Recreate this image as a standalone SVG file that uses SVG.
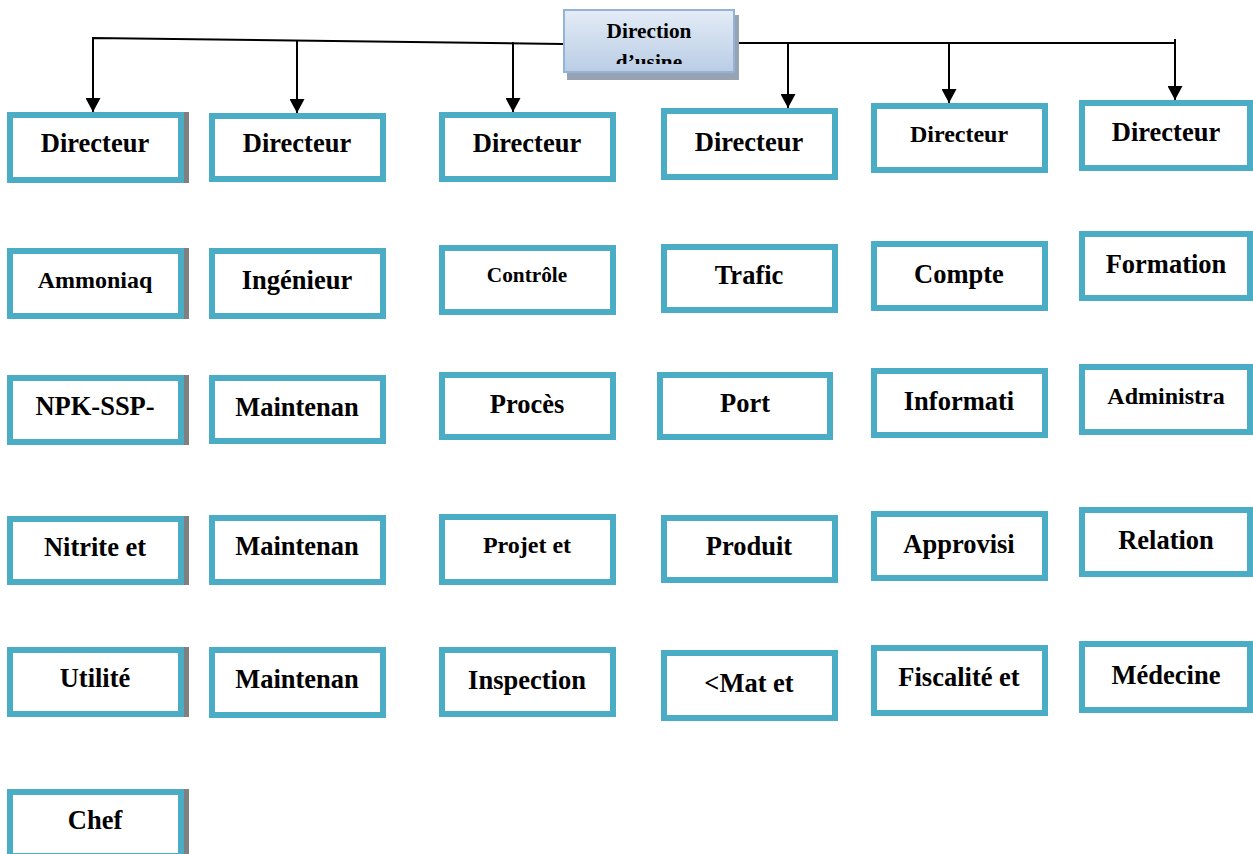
<svg xmlns="http://www.w3.org/2000/svg" width="1253" height="854" viewBox="0 0 1253 854">
<defs>
<linearGradient id="hdr" x1="0" y1="0" x2="0" y2="1">
<stop offset="0" stop-color="#e4ecf6"/>
<stop offset="1" stop-color="#b9cde5"/>
</linearGradient>
<clipPath id="hclip"><rect x="563" y="9" width="172" height="55"/></clipPath>
<marker id="arr" viewBox="0 0 14 15" refX="14" refY="7.5" markerWidth="14" markerHeight="15" markerUnits="userSpaceOnUse" orient="auto">
<path d="M0,0 L14,7.5 L0,15 z" fill="#000"/>
</marker>
<style>
.box{fill:#fff;stroke:#4BACC6;stroke-width:6}
.sh{fill:#808080}
.t{font-family:"Liberation Serif","Times New Roman",serif;font-weight:bold;font-size:26.5px;fill:#000;text-anchor:middle}
.s24{font-size:24px}
.s21{font-size:21.3px}
.c{fill:none;stroke:#000;stroke-width:2}
</style>
</defs>
<rect width="1253" height="854" fill="#fff"/>

<g id="connectors">
<path class="c" d="M563,44 L93,38 L93,112" marker-end="url(#arr)"/>
<path class="c" d="M297,41 L297,113" marker-end="url(#arr)"/>
<path class="c" d="M513,42 L513,112" marker-end="url(#arr)"/>
<path class="c" d="M735,43 L1176,43"/>
<path class="c" d="M788,43 L788,108" marker-end="url(#arr)"/>
<path class="c" d="M949,43 L949,103" marker-end="url(#arr)"/>
<path class="c" d="M1175,39 L1175,100" marker-end="url(#arr)"/>
</g>

<g id="n-direction-usine">
<rect x="567" y="15" width="172" height="65" fill="#97a3b3"/>
<rect x="564" y="10" width="170" height="62" fill="url(#hdr)" stroke="#95B3D7" stroke-width="2"/>
<text class="t s21" x="649" y="38">Direction</text>
<text class="t s21" x="649" y="69" clip-path="url(#hclip)">d’usine</text>
</g>

<!-- Column 1 -->
<g id="n-c1-directeur"><rect class="sh" x="183" y="112" width="6" height="71"/><rect class="box" x="10" y="115" width="171" height="65"/><text class="t" x="95" y="152">Directeur</text></g>
<g id="n-c1-ammoniaq"><rect class="sh" x="183" y="248" width="6" height="71"/><rect class="box" x="10" y="251" width="171" height="65"/><text class="t s24" x="95" y="288">Ammoniaq</text></g>
<g id="n-c1-npk"><rect class="sh" x="183" y="375" width="6" height="70"/><rect class="box" x="10" y="378" width="171" height="64"/><text class="t" x="95" y="415">NPK-SSP-</text></g>
<g id="n-c1-nitrite"><rect class="sh" x="183" y="516" width="6" height="69"/><rect class="box" x="10" y="519" width="171" height="63"/><text class="t" x="95" y="556">Nitrite et</text></g>
<g id="n-c1-utilite"><rect class="sh" x="183" y="647" width="6" height="70"/><rect class="box" x="10" y="650" width="171" height="64"/><text class="t" x="95" y="687">Utilité</text></g>
<g id="n-c1-chef"><rect class="sh" x="183" y="789" width="6" height="70"/><rect class="box" x="10" y="792" width="171" height="64"/><text class="t" x="95" y="829">Chef</text></g>

<!-- Column 2 -->
<g id="n-c2-directeur"><rect class="box" x="212" y="116" width="171" height="63"/><text class="t" x="297" y="152">Directeur</text></g>
<g id="n-c2-ingenieur"><rect class="box" x="212" y="251" width="171" height="65"/><text class="t" x="297" y="289">Ingénieur</text></g>
<g id="n-c2-maint1"><rect class="box" x="212" y="378" width="171" height="63"/><text class="t" x="297" y="416">Maintenan</text></g>
<g id="n-c2-maint2"><rect class="box" x="212" y="518" width="171" height="64"/><text class="t" x="297" y="555">Maintenan</text></g>
<g id="n-c2-maint3"><rect class="box" x="212" y="650" width="171" height="65"/><text class="t" x="297" y="688">Maintenan</text></g>

<!-- Column 3 -->
<g id="n-c3-directeur"><rect class="box" x="442" y="115" width="171" height="64"/><text class="t" x="527" y="152">Directeur</text></g>
<g id="n-c3-controle"><rect class="box" x="442" y="248" width="171" height="64"/><text class="t s21" x="527" y="282">Contrôle</text></g>
<g id="n-c3-proces"><rect class="box" x="442" y="375" width="171" height="62"/><text class="t" x="527" y="413">Procès</text></g>
<g id="n-c3-projet"><rect class="box" x="442" y="517" width="171" height="65"/><text class="t s24" x="527" y="553">Projet et</text></g>
<g id="n-c3-inspection"><rect class="box" x="442" y="650" width="171" height="64"/><text class="t" x="527" y="689">Inspection</text></g>

<!-- Column 4 -->
<g id="n-c4-directeur"><rect class="box" x="664" y="111" width="171" height="66"/><text class="t" x="749" y="151">Directeur</text></g>
<g id="n-c4-trafic"><rect class="box" x="664" y="247" width="171" height="63"/><text class="t" x="749" y="284">Trafic</text></g>
<g id="n-c4-port"><rect class="box" x="660" y="375" width="170" height="62"/><text class="t" x="745" y="412">Port</text></g>
<g id="n-c4-produit"><rect class="box" x="664" y="518" width="171" height="62"/><text class="t" x="749" y="555">Produit</text></g>
<g id="n-c4-mat"><rect class="box" x="664" y="653" width="171" height="65"/><text class="t" x="749" y="692">&lt;Mat et</text></g>

<!-- Column 5 -->
<g id="n-c5-directeur"><rect class="box" x="874" y="106" width="171" height="64"/><text class="t s24" x="959" y="142">Directeur</text></g>
<g id="n-c5-compte"><rect class="box" x="874" y="244" width="171" height="64"/><text class="t" x="959" y="283">Compte</text></g>
<g id="n-c5-informati"><rect class="box" x="874" y="371" width="171" height="64"/><text class="t" x="959" y="410">Informati</text></g>
<g id="n-c5-approvisi"><rect class="box" x="874" y="514" width="171" height="64"/><text class="t" x="959" y="553">Approvisi</text></g>
<g id="n-c5-fiscalite"><rect class="box" x="874" y="648" width="171" height="65"/><text class="t" x="959" y="686">Fiscalité et</text></g>

<!-- Column 6 -->
<g id="n-c6-directeur"><rect class="box" x="1082" y="103" width="168" height="65"/><text class="t" x="1166" y="141">Directeur</text></g>
<g id="n-c6-formation"><rect class="box" x="1082" y="234" width="168" height="64"/><text class="t" x="1166" y="273">Formation</text></g>
<g id="n-c6-administra"><rect class="box" x="1082" y="367" width="168" height="65"/><text class="t s24" x="1166" y="404">Administra</text></g>
<g id="n-c6-relation"><rect class="box" x="1082" y="510" width="168" height="64"/><text class="t" x="1166" y="549">Relation</text></g>
<g id="n-c6-medecine"><rect class="box" x="1082" y="644" width="168" height="66"/><text class="t" x="1166" y="684">Médecine</text></g>
</svg>
